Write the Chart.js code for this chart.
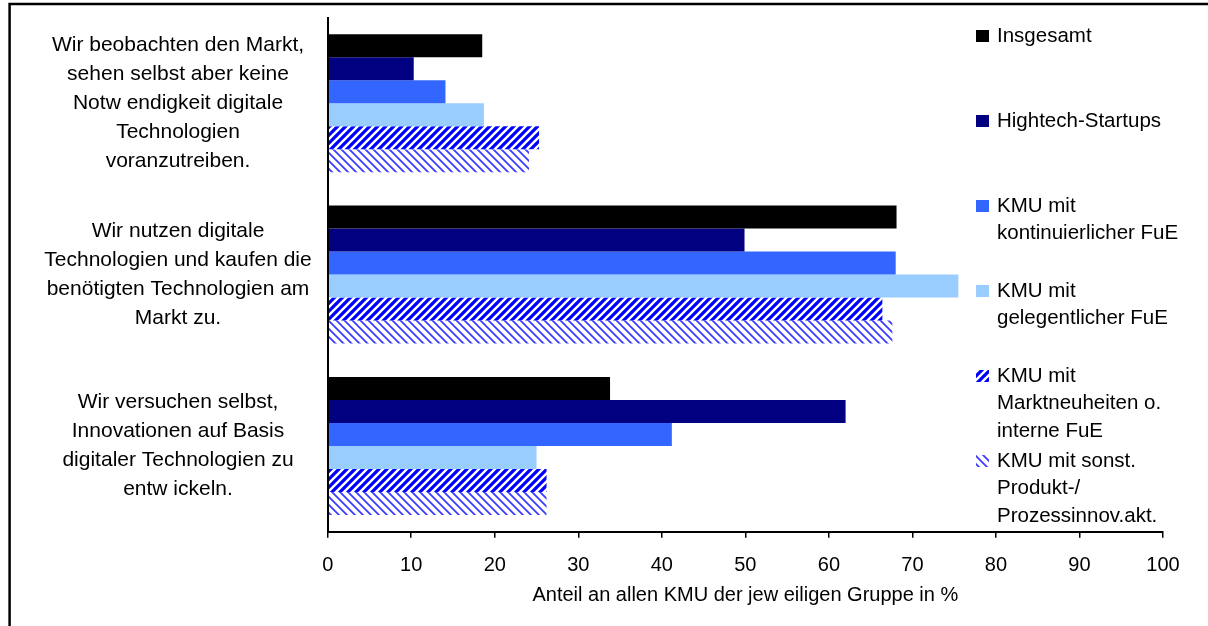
<!DOCTYPE html>
<html>
<head>
<meta charset="utf-8">
<script src="https://cdn.jsdelivr.net/npm/chart.js@4/dist/chart.umd.min.js"></script>
<style>
  html, body { margin: 0; padding: 0; background: #fff; }
  #wrap { width: 1208px; height: 626px; }
</style>
</head>
<body>
<div id="wrap"><canvas id="chart" width="1208" height="626"></canvas></div>
<script>
const categories = [
  ["Wir beobachten den Markt,", "sehen selbst aber keine", "Notw endigkeit digitale", "Technologien", "voranzutreiben."],
  ["Wir nutzen digitale", "Technologien und kaufen die", "benötigten Technologien am", "Markt zu."],
  ["Wir versuchen selbst,", "Innovationen auf Basis", "digitaler Technologien zu", "entw ickeln."],
];

const legendLines = [
  ["Insgesamt"],
  ["Hightech-Startups"],
  ["KMU mit", "kontinuierlicher FuE"],
  ["KMU mit", "gelegentlicher FuE"],
  ["KMU mit", "Marktneuheiten o.", "interne FuE"],
  ["KMU mit sonst.", "Produkt-/", "Prozessinnov.akt."],
];

const insgesamt = [18.5, 68.1, 33.8];
const hightech = [10.3, 49.9, 62.0];
const kontinuierlich = [14.1, 68.0, 41.2];
const gelegentlich = [18.7, 75.5, 25.0];
const marktneuheiten = [25.3, 66.4, 26.2];
const sonstige = [24.1, 67.6, 26.2];

const xTicks = [0, 10, 20, 30, 40, 50, 60, 70, 80, 90, 100];
const xTitle = "Anteil an allen KMU der jew eiligen Gruppe in %";

const FONT = '"Liberation Sans", Arial, sans-serif';

// hatch fills like the excel patterns
function hatch(dir, color, width) {
  const c = document.createElement("canvas");
  c.width = 8;
  c.height = 8;
  const g = c.getContext("2d");
  g.fillStyle = "#fff";
  g.fillRect(0, 0, 8, 8);
  g.strokeStyle = color;
  g.lineWidth = width;
  g.beginPath();
  for (let k = -8; k <= 8; k += 8) {
    if (dir === "up") {
      g.moveTo(k - 1, 9);
      g.lineTo(k + 9, -1);
    } else {
      g.moveTo(k - 1, -1);
      g.lineTo(k + 9, 9);
    }
  }
  g.stroke();
  return g.createPattern(c, "repeat");
}

const fills = ["#000000", "#000080", "#3366ff", "#99ccff", hatch("up", "#0000ff", 3.2), hatch("down", "#3c3cff", 1.8)];
const series = [insgesamt, hightech, kontinuierlich, gelegentlich, marktneuheiten, sonstige];

const sideLegend = {
  id: "sideLegend",
  afterDraw(chart) {
    const ctx = chart.ctx;
    ctx.save();
    ctx.font = "20.5px " + FONT;
    ctx.textBaseline = "middle";
    ctx.textAlign = "left";
    chart.data.datasets.forEach((ds, i) => {
      const y0 = 36 + i * 85;
      ctx.fillStyle = ds.backgroundColor;
      ctx.fillRect(976, y0 - 6, 13, 12);
      ctx.fillStyle = "#000";
      legendLines[i].forEach((line, j) => ctx.fillText(line, 997, y0 + j * 27.5));
    });
    // frame of the original picture
    ctx.strokeStyle = "#000";
    ctx.lineWidth = 2.5;
    ctx.strokeRect(9.6, 4, 1400, 800);
    ctx.restore();
  },
};

new Chart(document.getElementById("chart"), {
  type: "bar",
  data: {
    labels: categories,
    datasets: series.map((s, i) => ({
      label: legendLines[i].join(" "),
      data: s,
      backgroundColor: fills[i],
      borderWidth: 0,
      categoryPercentage: 0.805,
      barPercentage: 1.0,
    })),
  },
  options: {
    indexAxis: "y",
    responsive: false,
    animation: false,
    layout: { padding: { left: 8, top: 17.5, right: 45, bottom: 0 } },
    plugins: {
      legend: { display: false },
      tooltip: { enabled: false },
    },
    scales: {
      y: {
        grid: { display: false },
        border: { display: true, color: "#000", width: 2, z: 1 },
        ticks: {
          color: "#000",
          font: { family: FONT, size: 21, lineHeight: 1.38 },
          crossAlign: "center",
          padding: 8,
        },
        afterFit(s) {
          s.width = 319.7;
          s.paddingTop = 0;
          s.paddingBottom = 0;
        },
      },
      x: {
        min: 0,
        max: 100,
        afterBuildTicks(s) {
          s.ticks = xTicks.map((v) => ({ value: v }));
        },
        grid: { drawOnChartArea: false, color: "#000", lineWidth: 1.5, tickLength: 6 },
        border: { display: true, color: "#000", width: 2, z: 1 },
        ticks: {
          color: "#000",
          font: { family: FONT, size: 20 },
          padding: 16,
          maxRotation: 0,
        },
        title: {
          display: true,
          text: xTitle,
          color: "#000",
          font: { family: FONT, size: 20 },
          padding: { top: 0, bottom: 19 },
        },
        afterFit(s) {
          s.height = 94.3;
        },
      },
    },
  },
  plugins: [sideLegend],
});
</script>
</body>
</html>
